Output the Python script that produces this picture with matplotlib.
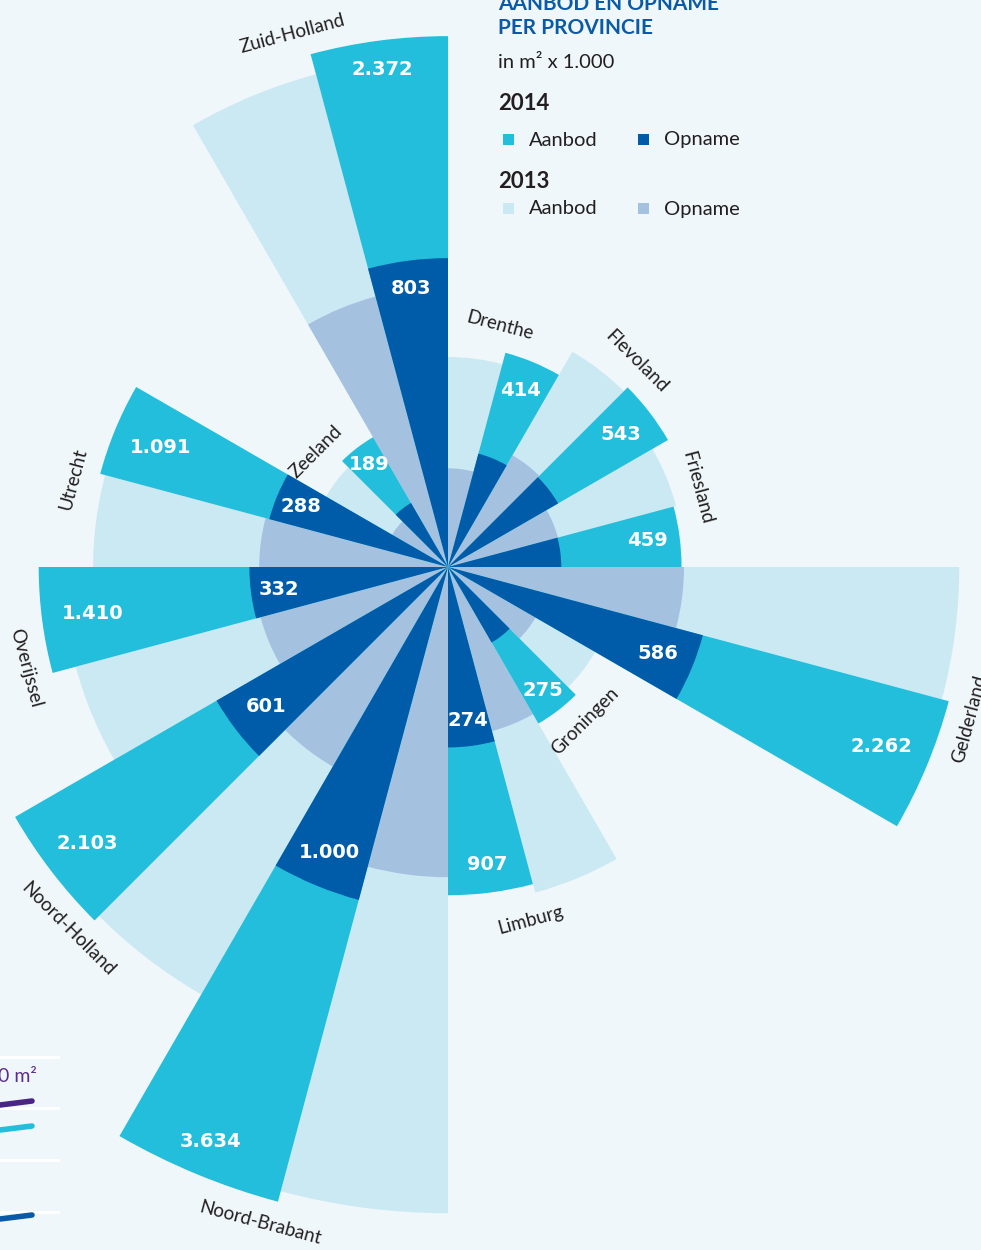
import numpy as np
import matplotlib.pyplot as plt
from matplotlib.lines import Line2D
from matplotlib.patches import Rectangle

plt.rcParams['font.family'] = ['Lato', 'DejaVu Sans']

# aanbod en opname per provincie, in m2 x 1.000
provincies = ['Drenthe', 'Flevoland', 'Friesland', 'Gelderland', 'Groningen', 'Limburg',
              'Noord-Brabant', 'Noord-Holland', 'Overijssel', 'Utrecht', 'Zeeland', 'Zuid-Holland']
aanbod_2014 = [414, 543, 459, 2262, 275, 907, 3634, 2103, 1410, 1091, 189, 2372]
opname_2014 = [116, 136, 108, 586, 64, 274, 1000, 601, 332, 288, 46, 803]
aanbod_2013 = [371, 520, 469, 2200, 243, 956, 3515, 2050, 1250, 1060, 167, 2190]
opname_2013 = [82, 140, 109, 469, 86, 243, 810, 447, 317, 300, 35, 660]

bg = '#eff7fa'
c_aanbod14 = '#23bedb'
c_opname14 = '#005ba9'
c_aanbod13 = '#cbe9f3'
c_opname13 = '#a5c1e0'
c_title = '#0a5aa8'
c_text = '#231f20'

W, H = 981, 1250
cx, cy = 448, 567       # centre of the rose in pixels
k = 10.9                # pixels per sqrt(m2 x 1.000)
R = 62

fig = plt.figure(figsize=(W / 100, H / 100), dpi=100)
fig.patch.set_facecolor(bg)
half = R * k
ax = fig.add_axes([(cx - half) / W, (H - cy - half) / H, 2 * half / W, 2 * half / H],
                  projection='polar')
ax.set_theta_zero_location('N')
ax.set_theta_direction(-1)
ax.set_ylim(0, R)
ax.set_axis_off()
ax.patch.set_alpha(0)

n = len(provincies)
step = 2 * np.pi / n
sub = step / 2
start = np.arange(n) * step

def sq(v):
    return np.sqrt(np.asarray(v, dtype=float))

# 2013 in the first half of every slice, 2014 in the second half
ax.bar(start, sq(aanbod_2013), width=sub, align='edge', color=c_aanbod13, lw=0)
ax.bar(start, sq(opname_2013), width=sub, align='edge', color=c_opname13, lw=0)
ax.bar(start + sub, sq(aanbod_2014), width=sub, align='edge', color=c_aanbod14, lw=0)
ax.bar(start + sub, sq(opname_2014), width=sub, align='edge', color=c_opname14, lw=0)

def fmt(v):
    return f'{v:,}'.replace(',', '.')

def value_label(theta, v):
    s = fmt(v)
    w = 12.5 * sum(ch.isdigit() for ch in s) + 5 * s.count('.')
    r_px = np.sqrt(v) * k
    off = min(26 + 0.45 * w * abs(np.sin(theta)), 0.14 * r_px)
    ax.text(theta, (r_px - off) / k, s, ha='center', va='center', color='white',
            fontsize=14, fontweight='bold', family='DejaVu Sans')

for i in range(n):
    th = start[i] + 1.5 * sub
    value_label(th, aanbod_2014[i])
    if opname_2014[i] >= 250:
        value_label(th, opname_2014[i])

# province names along the outer rim, nudged back against the reading direction
for i, name in enumerate(provincies):
    r_px = max(aanbod_2013[i], aanbod_2014[i]) ** 0.5 * k + 25
    deg = np.degrees(start[i] + sub) % 360
    upper = deg < 90 or deg > 270
    rot = -deg if upper else 180 - deg
    shift = 12 / r_px * (-1 if upper else 1)
    ax.text(start[i] + sub + shift, r_px / k, name, rotation=rot, rotation_mode='anchor',
            ha='center', va='center', fontsize=13.5, color=c_text)

def px(x, y):
    return x / W, 1 - y / H

# legend block
fig.text(*px(498, 4), 'AANBOD EN OPNAME', color=c_title, fontsize=15,
         fontweight='bold', va='center', ha='left')
fig.text(*px(498, 28), 'PER PROVINCIE', color=c_title, fontsize=15,
         fontweight='bold', va='center', ha='left')
fig.text(*px(498, 63), 'in m² x 1.000', color=c_text, fontsize=14.5, va='center')

rows = [('2014', 104, 140, c_aanbod14, c_opname14),
        ('2013', 181, 209, c_aanbod13, c_opname13)]
for year, y_year, y_row, ca, co in rows:
    fig.text(*px(498, y_year), year, color=c_text, fontsize=16, fontweight='bold', va='center')
    for x0, col, lab in [(503, ca, 'Aanbod'), (638, co, 'Opname')]:
        fig.patches.append(Rectangle(px(x0, y_row + 5), 11 / W, 11 / H,
                                     transform=fig.transFigure, color=col, lw=0))
        fig.text(*px(x0 + 26, y_row), lab, color=c_text, fontsize=14.5, va='center')

# edge of the neighbouring graphic on the left
for y in [1057, 1108, 1160, 1212]:
    fig.lines.append(Line2D([0, 58 / W], [1 - y / H] * 2, transform=fig.transFigure,
                            color='white', lw=2))
fig.text(*px(-2, 1077), '0 m²', color='#5b2d8e', fontsize=14, va='center', ha='left')
for y0, col in [(1105, '#4a2585'), (1130, '#23bedb'), (1219, '#0a5aa8')]:
    fig.lines.append(Line2D([0, 32 / W], [1 - y0 / H, 1 - (y0 - 4) / H],
                            transform=fig.transFigure, color=col, lw=4,
                            solid_capstyle='round'))

fig.savefig('out.png', dpi=100, facecolor=bg)
